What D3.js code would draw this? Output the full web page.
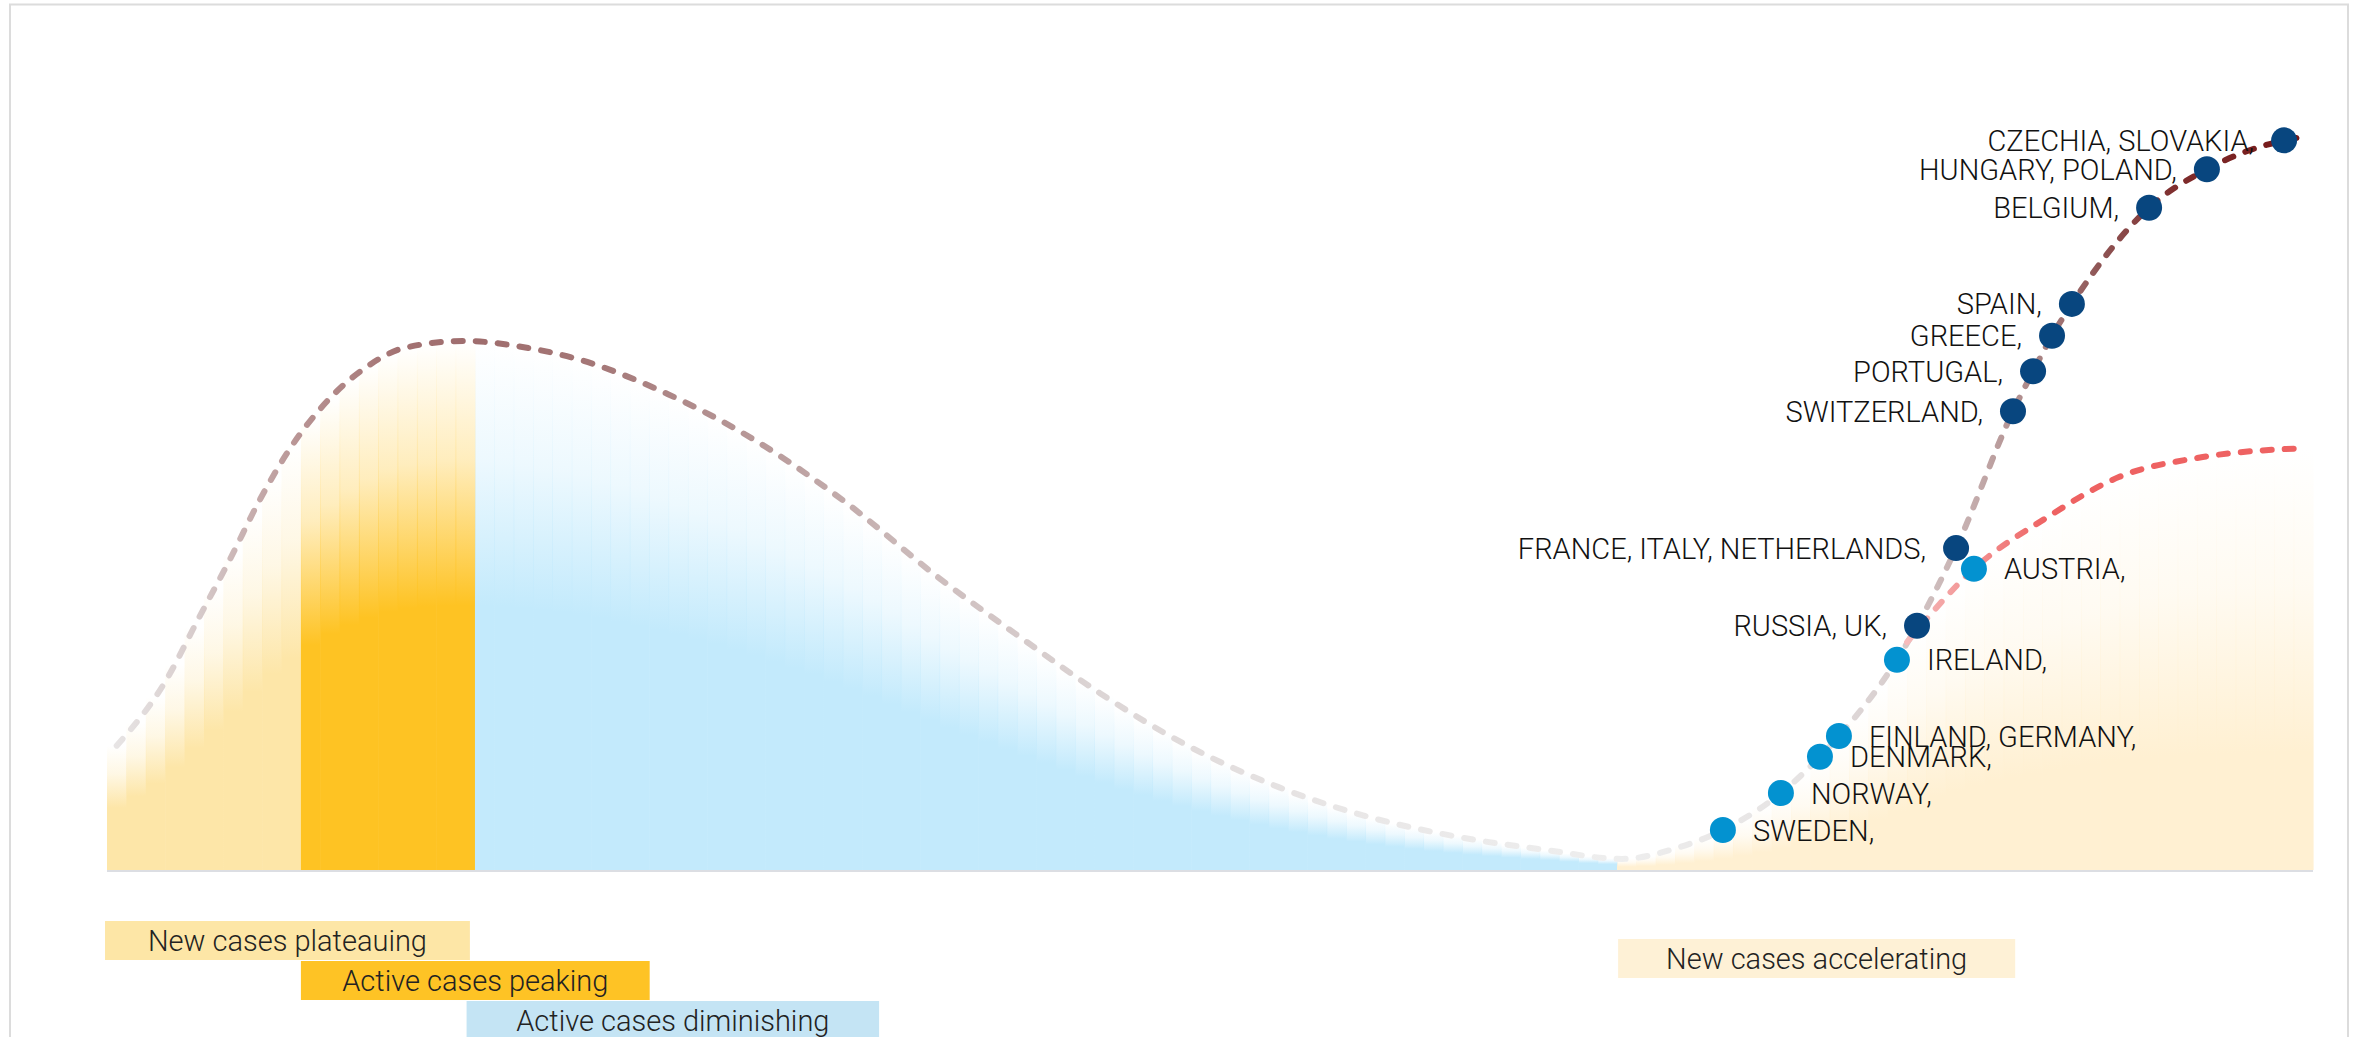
<!DOCTYPE html>
<html><head><meta charset="utf-8">
<script src="https://cdn.jsdelivr.net/npm/d3@7"></script>
<style>
html,body{margin:0;padding:0;background:#fff;}
svg{display:block;}
</style></head><body>
<script>
// ---- DATA (x: progression of the epidemic 0-100, y: case level 0-100) ----
const curveX = [0.44, 2.61, 4.17, 5.56, 6.94, 8.33, 9.90, 11.63, 13.54, 16.23, 18.57, 21.38, 25.43, 29.47, 33.52, 37.57, 41.61, 45.01, 49.05, 53.11, 57.16, 61.2, 65.23, 68.68, 71.3, 73.25, 75.88, 77.65, 78.51, 81.14, 82.05, 83.82, 86.40, 87.31, 88.17, 89.07, 92.57, 95.19, 98.69, 99.6];
const curveY = [16.8, 25.3, 34.1, 41.9, 50.1, 57.1, 63.1, 67.7, 70.6, 71.5, 70.8, 69.0, 64.3, 57.9, 49.6, 39.8, 31.0, 23.9, 16.7, 11.2, 7.2, 4.5, 2.7, 1.5, 3.1, 5.4, 10.4, 15.3, 18.1, 28.4, 33.0, 43.5, 62.0, 67.4, 72.2, 76.5, 89.5, 94.7, 98.6, 99.1];

const branchX = [81.6, 84.63, 87.97, 91.2, 95.0, 99.55];
const branchY = [30.8, 40.7, 47.7, 53.1, 55.8, 57.0];

const countries = ["SWEDEN,", "NORWAY,", "DENMARK,", "FINLAND, GERMANY,", "IRELAND,", "RUSSIA, UK,", "AUSTRIA,", "FRANCE, ITALY, NETHERLANDS,", "SWITZERLAND,", "PORTUGAL,", "GREECE,", "SPAIN,", "BELGIUM,", "HUNGARY, POLAND,", "CZECHIA, SLOVAKIA,"];
const countryX = [73.25, 75.88, 77.65, 78.51, 81.14, 82.05, 84.63, 83.82, 86.40, 87.31, 88.17, 89.07, 92.57, 95.19, 98.69];
const countryY = [5.4, 10.4, 15.3, 18.1, 28.4, 33.0, 40.7, 43.5, 62.0, 67.4, 72.2, 76.5, 89.5, 94.7, 98.6];
const countryGroup = ["light", "light", "light", "light", "light", "dark", "light", "dark", "dark", "dark", "dark", "dark", "dark", "dark", "dark"];

const bandFrom = [0, 8.79, 16.68, 68.45];
const bandTo = [8.79, 16.68, 68.45, 100];

const phaseLabels = ["New cases plateauing", "Active cases peaking", "Active cases diminishing", "New cases accelerating"];
const phaseFrom = [-0.09, 8.79, 16.3, 68.5];
const phaseTo = [16.45, 24.6, 35.0, 86.5];

// ---- LAYOUT / STYLE ----
const W = 2357, H = 1037;
const bandColors = ["#fde6a8", "#fec323", "#c3eafc", "#fff0d2"];
const bandFade = [0.5, 0.5, 0.5, 0.72];
const phaseColors = ["#fde6a6", "#fec325", "#c4e4f4", "#fef1d6"];
const phaseRowY = [921, 961, 1001, 939];
const dotColors = {dark: "#08467f", light: "#0392d0"};
const FONT = "Roboto, 'Liberation Sans', sans-serif";

const svg = d3.select("body").append("svg").attr("width", W).attr("height", H);
const x = d3.scaleLinear().domain([0, 100]).range([107, 2313]);
const y = d3.scaleLinear().domain([0, 100]).range([870, 130]);
const defs = svg.append("defs");

// frame
svg.append("path").attr("d", `M10,${H} V4.5 H2348 V${H}`)
  .attr("fill", "none").attr("stroke", "#dcdcdc").attr("stroke-width", 2);

const gFill = svg.append("g");
const gBase = svg.append("g");
const gLines = svg.append("g");
const gDots = svg.append("g");
const gLabels = svg.append("g");
const gPhase = svg.append("g");

// line gradients
const mainStops = [[107, "#e9e7e7"], [200, "#d6caca"], [300, "#b89393"], [400, "#a37272"], [480, "#9f6d6d"], [600, "#a57878"], [750, "#b79898"], [900, "#cab8b8"], [1100, "#dcd5d5"], [1350, "#e9e7e7"], [1620, "#eeeeee"], [1800, "#e6e3e3"], [1900, "#d6cbcb"], [1980, "#c2a9a9"], [2040, "#a88282"], [2100, "#8e5454"], [2180, "#7e2c2c"], [2313, "#741515"]];
const lg = defs.append("linearGradient").attr("id", "mainStroke").attr("gradientUnits", "userSpaceOnUse")
  .attr("x1", 107).attr("x2", 2313).attr("y1", 0).attr("y2", 0);
mainStops.forEach(s => lg.append("stop").attr("offset", (s[0] - 107) / (2313 - 107)).attr("stop-color", s[1]));
const bg = defs.append("linearGradient").attr("id", "branchStroke").attr("gradientUnits", "userSpaceOnUse")
  .attr("x1", x(branchX[0])).attr("x2", x(88)).attr("y1", 0).attr("y2", 0);
bg.append("stop").attr("offset", 0).attr("stop-color", "#f6bcbc");
bg.append("stop").attr("offset", 1).attr("stop-color", "#ee6262");

const line = d3.line().x(d => x(d[0])).y(d => y(d[1])).curve(d3.curveMonotoneX);
const mainPts = curveX.map((d, i) => [d, curveY[i]]);
const branchPts = branchX.map((d, i) => [d, branchY[i]]);

const mainPath = gLines.append("path").attr("d", line(mainPts))
  .attr("fill", "none").attr("stroke", "url(#mainStroke)").attr("stroke-width", 6)
  .attr("stroke-dasharray", "9 13").attr("stroke-linecap", "round");
const branchPath = gLines.append("path").attr("d", line(branchPts))
  .attr("fill", "none").attr("stroke", "url(#branchStroke)").attr("stroke-width", 6)
  .attr("stroke-dasharray", "9 13").attr("stroke-linecap", "round");

function sampler(node) {
  const L = node.getTotalLength(), pts = [];
  for (let s = 0; s <= L; s += 1) { const p = node.getPointAtLength(s); pts.push([p.x, p.y]); }
  const bis = d3.bisector(d => d[0]).left;
  return px => {
    let i = bis(pts, px); i = Math.max(1, Math.min(pts.length - 1, i));
    const a = pts[i - 1], b = pts[i];
    const t = Math.max(0, Math.min(1, (px - a[0]) / ((b[0] - a[0]) || 1)));
    return a[1] + (b[1] - a[1]) * t;
  };
}
const mainAt = sampler(mainPath.node());
const branchAt = sampler(branchPath.node());
const envelope = v => v < branchX[0] ? mainAt(x(v)) : branchAt(x(v));

// fills: columns with fading tops
bandFrom.forEach((f, b) => {
  const g = defs.append("linearGradient").attr("id", "band" + b).attr("x1", 0).attr("x2", 0).attr("y1", 0).attr("y2", 1);
  g.append("stop").attr("offset", 0).attr("stop-color", bandColors[b]).attr("stop-opacity", 0);
  g.append("stop").attr("offset", bandFade[b] * 0.45).attr("stop-color", bandColors[b]).attr("stop-opacity", 0.3);
  g.append("stop").attr("offset", bandFade[b]).attr("stop-color", bandColors[b]).attr("stop-opacity", 1);
  const n = Math.max(1, Math.round((bandTo[b] - f) / 0.88));
  const w = (bandTo[b] - f) / n;
  const cols = d3.range(n).map(i => ({x0: f + i * w, x1: f + (i + 1) * w}));
  gFill.selectAll(null).data(cols).join("rect")
    .attr("x", d => x(d.x0)).attr("width", d => x(d.x1) - x(d.x0) + 0.6)
    .attr("y", d => envelope((d.x0 + d.x1) / 2))
    .attr("height", d => y(0) - envelope((d.x0 + d.x1) / 2))
    .attr("fill", `url(#band${b})`);
});

// baseline
gBase.append("line").attr("x1", x(0)).attr("x2", x(100)).attr("y1", y(0) + 1).attr("y2", y(0) + 1)
  .attr("stroke", "#dcdee3").attr("stroke-width", 2);

// dots + labels
const dots = countries.map((c, i) => ({c, x: countryX[i], y: countryY[i], g: countryGroup[i]}));
gDots.selectAll("circle").data(dots).join("circle")
  .attr("cx", d => x(d.x)).attr("cy", d => y(d.y)).attr("r", 13)
  .attr("fill", d => dotColors[d.g]);
gLabels.selectAll("text").data(dots).join("text")
  .attr("x", d => x(d.x) + (d.g === "dark" ? -30 : 30))
  .attr("y", d => y(d.y) + 10.5)
  .attr("text-anchor", d => d.g === "dark" ? "end" : "start")
  .attr("font-family", FONT).attr("font-weight", 300).attr("font-size", 29).attr("fill", "#111")
  .text(d => d.c);

// phase boxes
const phases = phaseLabels.map((l, i) => ({l, f: phaseFrom[i], t: phaseTo[i], i}));
const pg = gPhase.selectAll("g").data(phases).join("g");
pg.append("rect").attr("x", d => x(d.f)).attr("width", d => x(d.t) - x(d.f))
  .attr("y", d => phaseRowY[d.i]).attr("height", 39).attr("fill", d => phaseColors[d.i]);
pg.append("text").attr("x", d => (x(d.f) + x(d.t)) / 2).attr("y", d => phaseRowY[d.i] + 30)
  .attr("text-anchor", "middle").attr("font-family", FONT).attr("font-weight", 300)
  .attr("font-size", 29).attr("fill", "#222").text(d => d.l);
</script>
</body></html>
